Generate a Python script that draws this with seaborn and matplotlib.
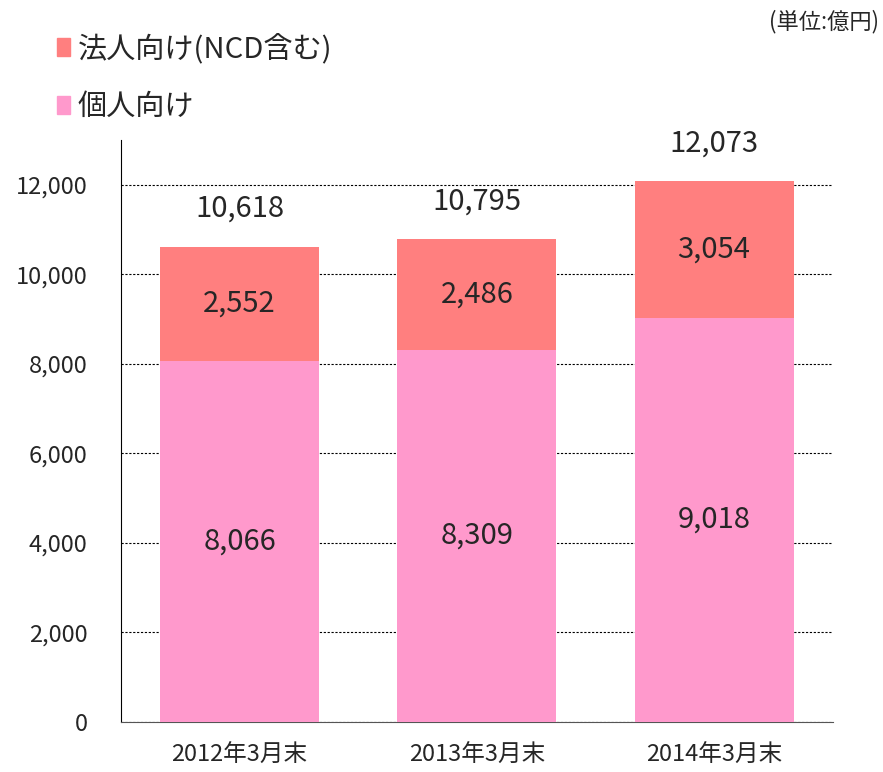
import pandas as pd
import seaborn as sns
import matplotlib.pyplot as plt
from matplotlib.patches import Patch

periods = ['2012年3月末', '2013年3月末', '2014年3月末']
individual = [8066, 8309, 9018]
corporate = [2552, 2486, 3054]
totals = [10618, 10795, 12073]

c_corp = '#FF7F7F'
c_ind = '#FF99CC'

sns.set_style('white')
plt.rcParams['font.family'] = ['Noto Sans CJK JP', 'DejaVu Sans']

df = pd.DataFrame({'period': periods, 'individual': individual,
                   'corporate': corporate, 'total': totals})

fig = plt.figure(figsize=(8.83, 7.72), dpi=100)
ax = fig.add_axes([0.137, 0.0648, 0.806, 0.754])

# stacked: full height in corporate colour, individual part drawn over it
sns.barplot(data=df, x='period', y='total', color=c_corp, width=0.67,
            saturation=1, linewidth=0, ax=ax, zorder=2)
sns.barplot(data=df, x='period', y='individual', color=c_ind, width=0.67,
            saturation=1, linewidth=0, ax=ax, zorder=3)

ax.set_ylim(0, 13000)
ax.set_xlim(-0.5, 2.5)
ax.set_yticks(range(0, 13000, 2000))
ax.set_yticklabels([f'{v:,}' for v in range(0, 13000, 2000)], fontsize=17)
ax.yaxis.grid(True, color='black', linestyle=(0, (2, 1.5)), linewidth=0.8, zorder=0)
ax.set_axisbelow(True)
ax.tick_params(axis='y', length=0, pad=24)

ax.set_xticks([-0.5, 0.5, 1.5, 2.5])
ax.set_xticklabels([])
ax.tick_params(axis='x', direction='in', length=6, color='#555555')
for i, p in enumerate(periods):
    ax.text(i, -0.058, p, transform=ax.get_xaxis_transform(),
            ha='center', va='center', fontsize=17)
ax.set_xlabel('')
ax.set_ylabel('')

for s in ['top', 'right']:
    ax.spines[s].set_visible(False)
ax.spines['left'].set_color('black')
ax.spines['bottom'].set_color('#555555')

for i in range(len(periods)):
    ax.text(i, individual[i] / 2, f'{individual[i]:,}', ha='center',
            va='center', fontsize=21, zorder=5)
    ax.text(i, individual[i] + corporate[i] / 2, f'{corporate[i]:,}',
            ha='center', va='center', fontsize=21, zorder=5)
    ax.annotate(f'{totals[i]:,}', (i, totals[i]), xytext=(0, 27),
                textcoords='offset points', ha='center', va='center',
                fontsize=21)

handles = [Patch(color=c_corp), Patch(color=c_ind)]
fig.legend(handles, ['法人向け(NCD含む)', '個人向け'], loc='upper left',
           bbox_to_anchor=(0.035, 0.99), frameon=False, fontsize=21,
           handlelength=0.45, handleheight=0.55, handletextpad=0.25,
           labelspacing=0.95)
fig.text(0.995, 0.972, '(単位:億円)', ha='right', va='center', fontsize=16)

plt.savefig('out.png', dpi=100)
